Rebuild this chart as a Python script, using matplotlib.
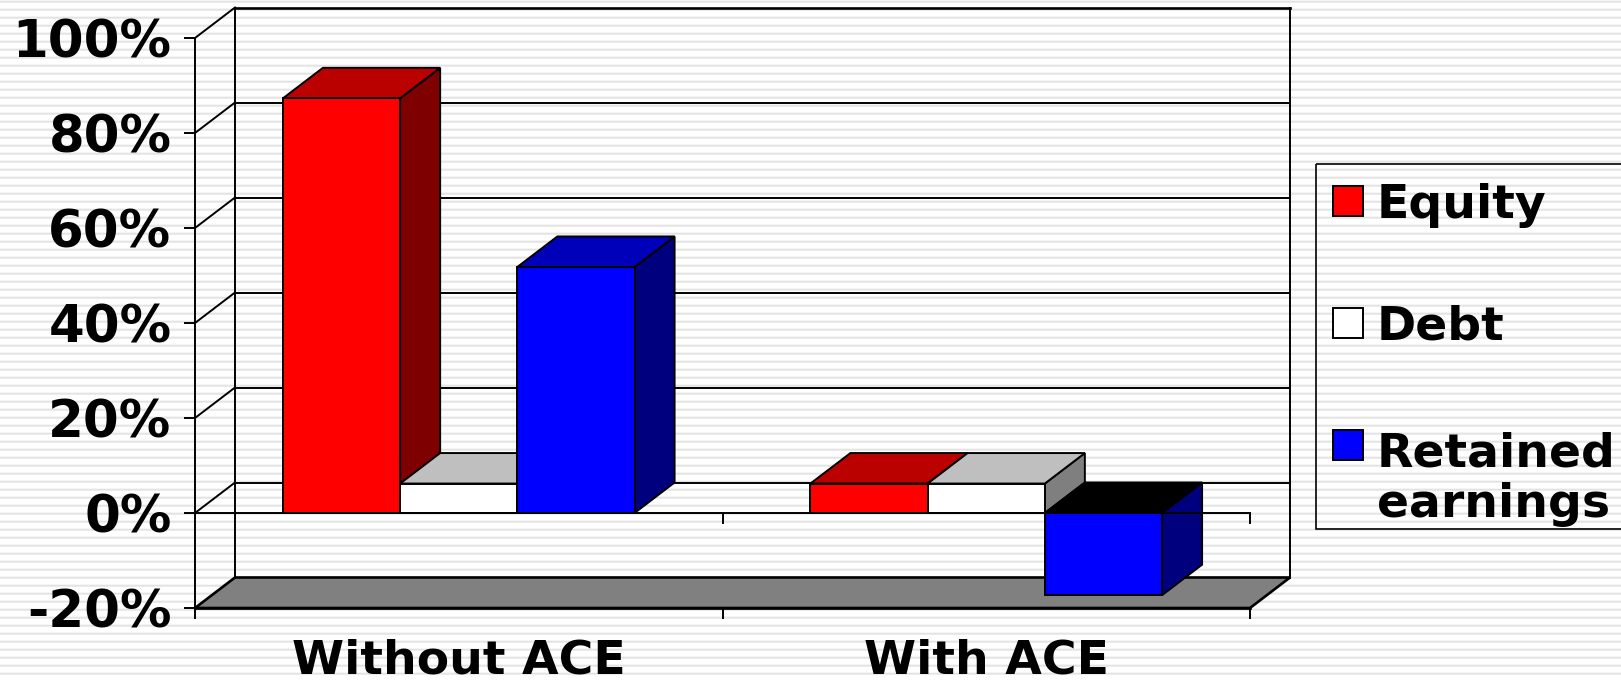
#!/usr/bin/env python3
"""Financing shares with and without ACE, drawn as a pseudo-3D bar chart."""

import matplotlib

matplotlib.use("Agg")
import matplotlib.pyplot as plt
import numpy as np
from matplotlib.patches import Polygon, Rectangle

plt.rcParams["font.family"] = ["DejaVu Sans"]
plt.rcParams["font.weight"] = "bold"

WIDTH, HEIGHT = 1621, 680

categories = ["Without ACE", "With ACE"]
series_names = ["Equity", "Debt", "Retained\nearnings"]
equity = [87.3, 6.2]
debt = [6.2, 6.2]
retained = [51.8, -17.3]
y_ticks = [-20, 0, 20, 40, 60, 80, 100]

face_colors = ["#ff0000", "#ffffff", "#0000ff"]
top_colors = ["#bb0000", "#bfbfbf", "#0000bb"]
side_colors = ["#7f0000", "#7f7f7f", "#00007f"]

LINE = 1.4
HEAVY = 1.9
TICK_FONT = 37
LABEL_FONT = 34


def draw_background(fig):
    """Striped slide background plus a pixel-unit axes for the legend."""
    canvas = fig.add_axes([0, 0, 1, 1], zorder=0)
    canvas.set_xlim(0, WIDTH)
    canvas.set_ylim(HEIGHT, 0)
    canvas.axis("off")
    rows = np.ones(HEIGHT)
    rows[np.arange(HEIGHT) % 8 == 0] = 0.96
    rows[np.arange(HEIGHT) % 8 == 1] = 0.89
    rows[np.arange(HEIGHT) % 8 == 2] = 0.92
    canvas.imshow(rows[:, None], cmap="gray", vmin=0, vmax=1, aspect="auto",
                  extent=(0, WIDTH, HEIGHT, 0), interpolation="nearest")
    return canvas


def draw_legend(canvas):
    canvas.add_patch(Rectangle((1316, 164), WIDTH, 365, fill=False, ec="black", lw=1.2))
    swatch_tops = [186, 308, 430]
    # multi-line text sits on the baseline of its last line
    baselines = [218, 339, 517]
    for name, color, swatch_y, base in zip(series_names, face_colors, swatch_tops, baselines):
        canvas.add_patch(Rectangle((1333, swatch_y), 30, 30, fc=color, ec="black", lw=LINE))
        canvas.text(1377, base, name, fontsize=LABEL_FONT, va="baseline", linespacing=1.15)


def draw_walls(ax, dx, dy):
    """Floor, back wall, side wall and their gridlines."""
    y_low, y_high = y_ticks[0], y_ticks[-1]
    ax.add_patch(Polygon([(0, y_low), (2, y_low), (2 + dx, y_low + dy), (dx, y_low + dy)],
                         fc="#808080", ec="black", lw=HEAVY, zorder=1, clip_on=False))
    for tick in y_ticks[1:]:
        ax.plot([0, dx], [tick, tick + dy], color="black", lw=LINE, zorder=1, clip_on=False)
        ax.plot([dx, 2 + dx], [tick + dy, tick + dy], color="black",
                lw=HEAVY if tick == y_high else LINE, zorder=1, clip_on=False)
    ax.plot([dx, dx], [y_low + dy, y_high + dy], color="black", lw=LINE, zorder=1, clip_on=False)
    ax.plot([2 + dx, 2 + dx], [y_low + dy, y_high + dy], color="black", lw=LINE, zorder=1, clip_on=False)


def draw_bars(ax, dx, dy):
    series = [equity, debt, retained]
    bar_width = 1 / 4.5
    order = 2
    for group in range(len(categories)):
        for i, values in enumerate(series):
            value = values[group]
            left = group + bar_width * (0.75 + i)
            right = left + bar_width
            low, high = min(value, 0), max(value, 0)
            top_color = "black" if value < 0 else top_colors[i]
            ax.add_patch(Polygon([(right, low), (right + dx, low + dy), (right + dx, high + dy), (right, high)],
                                 fc=side_colors[i], ec="black", lw=LINE, zorder=order, clip_on=False))
            ax.add_patch(Polygon([(left, high), (left + dx, high + dy), (right + dx, high + dy), (right, high)],
                                 fc=top_color, ec="black", lw=LINE, zorder=order, clip_on=False))
            ax.bar(left, value, width=bar_width, align="edge", color=face_colors[i],
                   edgecolor="black", lw=LINE, zorder=order, clip_on=False)
            order += 1


def main():
    fig = plt.figure(figsize=(WIDTH / 100, HEIGHT / 100), dpi=100)
    canvas = draw_background(fig)
    draw_legend(canvas)

    ax = fig.add_axes([195 / WIDTH, 1 - 608 / HEIGHT, 1055 / WIDTH, 570 / HEIGHT], zorder=1)
    ax.patch.set_visible(False)
    ax.set_xlim(0, 2)
    ax.set_ylim(y_ticks[0], y_ticks[-1])

    # depth of the 3D box, in data units of each axis
    dx = 40 / (1055 / 2)
    dy = 30.5 / (570 / 120)
    draw_walls(ax, dx, dy)
    draw_bars(ax, dx, dy)

    for side in ["top", "right"]:
        ax.spines[side].set_visible(False)
    ax.spines["left"].set_linewidth(LINE)
    ax.spines["bottom"].set_linewidth(HEAVY)
    for spine in ax.spines.values():
        spine.set_zorder(20)

    ax.set_yticks(y_ticks)
    ax.set_yticklabels([f"{t}%" for t in y_ticks])
    for label in ax.get_yticklabels():
        label.set_verticalalignment("center_baseline")
    ax.tick_params(axis="y", length=8, width=LINE, pad=9, labelsize=TICK_FONT)

    ax.set_xticks([0, 1, 2])
    ax.set_xticklabels([])
    ax.tick_params(axis="x", which="major", length=8, width=LINE)
    ax.set_xticks([0.5, 1.5], minor=True)
    ax.set_xticklabels(categories, minor=True)
    ax.tick_params(axis="x", which="minor", length=0, pad=22, labelsize=LABEL_FONT)

    # the zero line runs in front of the bars, with its own ticks
    zero_pos = (0 - y_ticks[0]) / (y_ticks[-1] - y_ticks[0])
    zero_axis = ax.secondary_xaxis(zero_pos)
    zero_axis.set_zorder(30)
    zero_axis.set_xticks([1, 2])
    zero_axis.set_xticklabels([])
    zero_axis.tick_params(axis="x", direction="out", length=8, width=LINE)
    zero_axis.spines["bottom"].set_linewidth(LINE)

    fig.savefig("out.png", dpi=100)
    plt.close(fig)


if __name__ == "__main__":
    main()
